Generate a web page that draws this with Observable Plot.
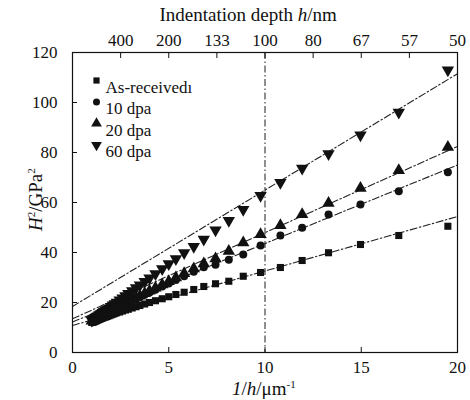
<!DOCTYPE html>
<html><head><meta charset="utf-8">
<script src="https://cdn.jsdelivr.net/npm/d3@7"></script>
<script src="https://cdn.jsdelivr.net/npm/@observablehq/plot@0.6"></script>
<style>
body{margin:0;background:#fff;}
#wrap{position:relative;width:470px;height:400px;font-family:"Liberation Serif","Times New Roman",serif;color:#111;}
.lbl{position:absolute;font-size:19px;white-space:nowrap;line-height:1;}
</style></head><body><div id="wrap"></div>
<script>
// ---- data ----
const seriesNames = ["As-receivedı", "10 dpa", "20 dpa", "60 dpa"];
const invDepth = [19.5, 16.95, 14.96, 13.3, 11.93, 10.8, 9.77, 8.87, 8.12, 7.43,
  6.82, 6.3, 5.8, 5.37, 5.0, 4.66, 4.31, 4.0, 3.75, 3.5,
  3.3, 3.1, 2.9, 2.75, 2.6, 2.45, 2.3, 2.2, 2.1, 2.0,
  1.9, 1.8, 1.72, 1.64, 1.57, 1.5, 1.44, 1.38, 1.32, 1.27,
  1.22, 1.17, 1.12, 1.08, 1.04, 1.0];
const asReceived = [50.5, 46.8, 43.2, 39.9, 36.8, 34.0, 32.0, 30.5, 28.5, 27.5,
  26.4, 25.2, 24.1, 23.2, 22.3, 21.5, 20.7, 20.0, 19.4, 18.8,
  18.3, 17.8, 17.3, 17.0, 16.6, 16.2, 15.9, 15.6, 15.3, 15.0,
  14.7, 14.4, 14.2, 14.0, 13.8, 13.6, 13.4, 13.2, 13.0, 12.8,
  12.6, 12.5, 12.3, 12.2, 12.1, 12.0];
const dpa10 = [72.1, 64.5, 59.2, 55.2, 49.9, 46.8, 42.8, 39.2, 37.1, 35.1,
  34.1, 32.3, 30.5, 29.0, 27.6, 26.4, 25.1, 24.0, 23.1, 22.2,
  21.4, 20.7, 19.9, 19.4, 18.8, 18.3, 17.7, 17.3, 16.9, 16.5,
  16.1, 15.7, 15.4, 15.1, 14.8, 14.5, 14.2, 14.0, 13.7, 13.5,
  13.3, 13.1, 12.9, 12.7, 12.5, 12.3];
const dpa20 = [82.1, 72.8, 65.7, 59.7, 55.2, 50.8, 47.2, 43.9, 40.5, 37.5,
  35.5, 33.5, 31.6, 29.9, 28.4, 27.1, 25.8, 24.6, 23.6, 22.6,
  21.8, 21.0, 20.2, 19.6, 19.0, 18.4, 17.8, 17.4, 17.0, 16.6,
  16.2, 15.8, 15.5, 15.2, 14.9, 14.6, 14.4, 14.1, 13.9, 13.7,
  13.5, 13.3, 13.1, 12.9, 12.8, 12.6];
const dpa60 = [113.0, 96.1, 87.0, 79.5, 73.7, 68.0, 62.8, 57.2, 52.8, 49.0,
  45.3, 42.4, 39.9, 37.5, 35.5, 33.5, 31.5, 29.8, 28.4, 27.0,
  25.9, 24.7, 23.6, 22.7, 21.8, 21.0, 20.1, 19.5, 19.0, 18.4,
  17.8, 17.3, 16.8, 16.4, 16.0, 15.6, 15.3, 15.0, 14.6, 14.4,
  14.1, 13.8, 13.6, 13.3, 13.1, 12.9];
// linear fits (dash-dot lines): value at 1/h = 0 and at 1/h = 20
const fitX = [0, 20];
const fitAt0 = [10.8, 12.2, 13.5, 18.4];
const fitAt20 = [54.4, 75.0, 82.4, 111.5];
const refLineX = [10];
const bottomTicks = [0, 5, 10, 15, 20];
const leftTicks = [0, 20, 40, 60, 80, 100, 120];
const topTickPos = [2.5, 5, 7.5, 10, 12.5, 15, 17.5, 20];
const topTickLabels = ["400", "200", "133", "100", "80", "67", "57", "50"];

// ---- build ----
const downTriangle = {
  draw(context, size) {
    const y = -Math.sqrt(size / (Math.sqrt(3) * 3));
    context.moveTo(0, -y * 2);
    context.lineTo(-Math.sqrt(3) * y, y);
    context.lineTo(Math.sqrt(3) * y, y);
    context.closePath();
  }
};
const seriesVals = [asReceived, dpa10, dpa20, dpa60];
const symbols = ["square", "circle", "triangle", downTriangle];
const radii = [4.0, 4.0, 4.6, 4.6];
const pts = seriesVals.map((vals, s) => invDepth.map((x, i) => ({x, y: vals[i], s})));
const fits = seriesNames.flatMap((n, s) => fitX.map((x, j) => ({x, y: j === 0 ? fitAt0[s] : fitAt20[s], s})));
const dash = "7,2.5,1.5,2.5";

const marks = [
  Plot.ruleX(refLineX, {stroke: "#333", strokeWidth: 1.1, strokeDasharray: dash}),
  Plot.line(fits, {x: "x", y: "y", z: "s", stroke: "#222", strokeWidth: 1.1, strokeDasharray: dash}),
];
[3, 2, 1, 0].forEach(s => {
  marks.push(Plot.dot(pts[s].slice().reverse(), {x: "x", y: "y", symbol: symbols[s], r: radii[s], fill: "#111", stroke: "none"}));
});
const legendR = [3.5, 3.5, 4.0, 4.0];
seriesNames.forEach((name, i) => {
  marks.push(Plot.dot([name], {frameAnchor: "top-left", dx: 24, dy: 28 + 21.5 * i, symbol: symbols[i], r: legendR[i], fill: "#111"}));
  marks.push(Plot.text([name], {frameAnchor: "top-left", dx: 33, dy: 28 + 21.5 * i, text: d => d, textAnchor: "start", fontSize: 17, fill: "#111"}));
});
marks.push(
  Plot.axisX({anchor: "bottom", ticks: bottomTicks, tickSize: -5, tickPadding: 13, label: null, tickFormat: d => String(d)}),
  Plot.axisX({anchor: "top", ticks: topTickPos, tickSize: -5, tickPadding: 12, label: null, tickFormat: d => topTickLabels[topTickPos.indexOf(d)]}),
  Plot.axisY({anchor: "left", ticks: leftTicks, tickSize: -5, tickPadding: 20, label: null, tickFormat: d => String(d)}),
  Plot.frame({stroke: "#111", strokeWidth: 1.2})
);

const chart = Plot.plot({
  width: 470, height: 400,
  marginLeft: 72, marginRight: 13, marginTop: 52, marginBottom: 48,
  x: {domain: [0, 20]},
  y: {domain: [0, 120]},
  style: {fontFamily: '"Liberation Serif","Times New Roman",serif', fontSize: "17px", color: "#111", background: "#fff"},
  marks
});
const wrap = document.getElementById("wrap");
wrap.appendChild(chart);

function addLabel(html, left, top) {
  const d = document.createElement("div");
  d.className = "lbl";
  d.innerHTML = html;
  d.style.left = left + "px";
  d.style.top = top + "px";
  wrap.appendChild(d);
  return d;
}
const t1 = addLabel("Indentation depth <i>h</i>/nm", 0, 5);
t1.style.left = (248 - t1.offsetWidth / 2) + "px";
const t2 = addLabel("<i>1</i>/<i>h</i>/μm<sup style='font-size:11px'>-1</sup>", 0, 379);
t2.style.left = (264 - t2.offsetWidth / 2) + "px";
const t3 = addLabel("<i>H</i><sup style='font-size:11px'>2</sup>/GPa<sup style='font-size:11px'>2</sup>", 0, 0);
t3.style.transformOrigin = "center center";
t3.style.left = (35 - t3.offsetWidth / 2) + "px";
t3.style.top = (199 - t3.offsetHeight / 2) + "px";
t3.style.transform = "rotate(-90deg)";
</script></body></html>
